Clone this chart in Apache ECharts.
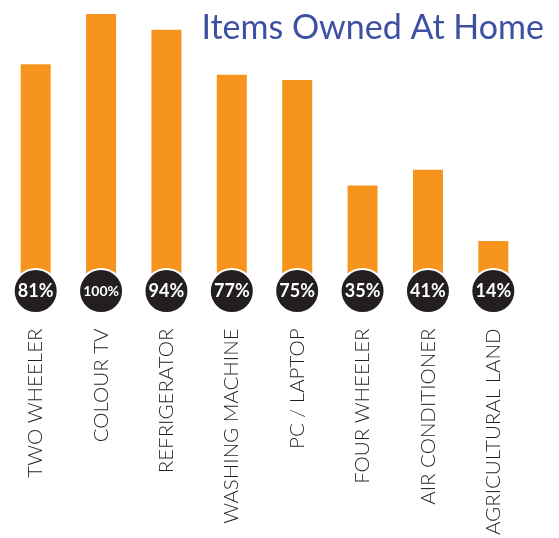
<!DOCTYPE html>
<html>
<head>
<meta charset="utf-8">
<script src="https://cdn.jsdelivr.net/npm/echarts@6/dist/echarts.min.js"></script>
<style>
  html, body { margin: 0; padding: 0; background: #fff; }
  #main { width: 559px; height: 538px; }
</style>
</head>
<body>
<div id="main"></div>
<script>
var categories = ['TWO WHEELER', 'COLOUR TV', 'REFRIGERATOR', 'WASHING MACHINE',
  'PC / LAPTOP', 'FOUR WHEELER', 'AIR CONDITIONER', 'AGRICULTURAL LAND'];
var owned = [81, 100, 94, 77, 75, 35, 41, 14];

var myChart = echarts.init(document.getElementById('main'));

// badges sit just below the zero line
var badges = owned.map(function (v, i) {
  var b = { value: [i, -5], pct: v };
  // "100%" needs a smaller font to fit in the badge
  if (v >= 100) {
    b.label = { fontSize: 14 };
  }
  return b;
});

var option = {
  animation: false,
  title: {
    text: 'Items Owned At Home',
    right: 10,
    top: 6,
    textStyle: {
      fontFamily: 'Lato',
      fontWeight: 'normal',
      fontSize: 34,
      color: '#3d50a2'
    }
  },
  grid: { left: 3, right: 33, top: 14, bottom: 218 },
  xAxis: {
    type: 'category',
    data: categories,
    axisLine: { show: false },
    axisTick: { show: false },
    axisLabel: {
      rotate: 90,
      margin: 11,
      interval: 0,
      fontFamily: 'Lato',
      fontWeight: 300,
      fontSize: 20.5,
      color: '#231f20'
    }
  },
  yAxis: {
    type: 'value',
    min: -15,
    max: 100,
    show: false,
    splitLine: { show: false }
  },
  series: [
    {
      type: 'bar',
      data: owned,
      barWidth: 30,
      itemStyle: { color: '#f7941d' },
      z: 1
    },
    {
      type: 'scatter',
      data: badges,
      symbol: 'circle',
      symbolSize: 44,
      clip: false,
      itemStyle: { color: '#231f20', opacity: 1, borderColor: '#ffffff', borderWidth: 2 },
      label: {
        show: true,
        position: 'inside',
        formatter: function (p) { return p.data.pct + '%'; },
        fontFamily: 'Lato',
        fontWeight: 'bold',
        fontSize: 18,
        color: '#ffffff'
      },
      z: 3
    }
  ]
};

myChart.setOption(option);
</script>
</body>
</html>
